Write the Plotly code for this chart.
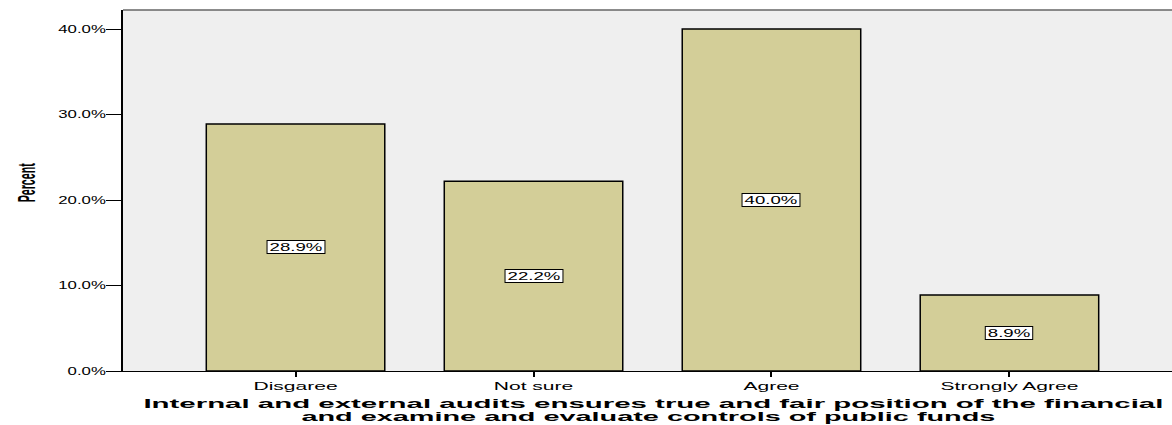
import plotly.graph_objects as go

categories = ["Disgaree", "Not sure", "Agree", "Strongly Agree"]
percents = [28.9, 22.2, 40.0, 8.9]
y_ticks = [0, 10, 20, 30, 40]
y_tick_labels = ["0.0%", "10.0%", "20.0%", "30.0%", "40.0%"]
x_title_lines = [
    "Internal and external audits ensures true and fair position of the financial",
    "and examine and evaluate controls of public funds",
]
y_title = "Percent"

W, H = 1172, 425
ML, MR, MT, MB = 123, 0, 10, 54
PW, PH = W - ML - MR, H - MT - MB


def px_x(px):
    return (px - ML) / PW


def px_y(py):
    return (H - MB - py) / PH


fig = go.Figure()
fig.add_trace(go.Bar(
    x=categories, y=percents, width=0.75,
    marker=dict(color="#d3ce98", line=dict(color="black", width=1.5)),
    hoverinfo="skip",
))

# value labels (indices 0..3)
for c, v in zip(categories, percents):
    fig.add_annotation(
        x=c, y=v / 2, xref="x", yref="y", text=f"{v:.1f}%", showarrow=False,
        bgcolor="white", bordercolor="black", borderwidth=1, borderpad=0,
        font=dict(family="Liberation Sans, Arial", size=10.5, color="black"),
    )

# y-axis title (index 4)
fig.add_annotation(
    x=px_x(26.5), y=px_y(182.5), xref="paper", yref="paper",
    xanchor="center", yanchor="middle", text=y_title, textangle=-90,
    showarrow=False,
    font=dict(family="Liberation Sans, Arial", size=23, color="black", weight="bold"),
)

# x-axis title lines (indices 5, 6)
for txt, cx, cy in zip(x_title_lines, [653, 648], [403.5, 416.5]):
    fig.add_annotation(
        x=px_x(cx), y=px_y(cy), xref="paper", yref="paper",
        xanchor="center", yanchor="middle", text=txt, showarrow=False,
        font=dict(family="Liberation Sans, Arial", size=13, color="black", weight="bold"),
    )

fig.add_shape(type="line", xref="paper", yref="paper", x0=0, x1=1, y0=1, y1=1,
              line=dict(color="#666666", width=1.5))

fig.update_layout(
    width=W, height=H,
    margin=dict(l=ML, r=MR, t=MT, b=MB),
    paper_bgcolor="white", plot_bgcolor="#efefef",
    showlegend=False,
    font=dict(family="Liberation Sans, Arial", color="black"),
    xaxis=dict(
        range=[-0.725, 3.683], showgrid=False, zeroline=False,
        showline=True, linecolor="black", linewidth=1,
        ticks="outside", ticklen=5, tickcolor="black", tickwidth=2,
        tickfont=dict(size=10.5, color="black"),
    ),
    yaxis=dict(
        range=[0, (H - MB - MT) / 85.5 * 10], showgrid=False, zeroline=False,
        showline=True, linecolor="black", linewidth=2,
        ticks="outside", ticklen=15, tickcolor="black", tickwidth=1,
        tickvals=y_ticks, ticktext=y_tick_labels, ticklabelstandoff=-2,
        tickfont=dict(size=10.5, color="black"),
    ),
)

post_script = """
var gd = document.getElementById('{plot_id}');
function fitText(el, target) {
  var w = el.getComputedTextLength();
  el.setAttribute('textLength', target.toFixed(2));
  el.setAttribute('lengthAdjust', 'spacingAndGlyphs');
  return target - w;
}
function stretch(el, f) { return fitText(el, el.getComputedTextLength() * f); }
gd.querySelectorAll('.ytick text').forEach(function (t) { stretch(t, 1.6); });
gd.querySelectorAll('.xtick text').forEach(function (t) { stretch(t, 2.0); });
function ann(i) { return gd.querySelector('.annotation[data-index="' + i + '"]'); }
for (var i = 0; i < 4; i++) {
  var g = ann(i); if (!g) continue;
  var t = g.querySelector('text.annotation-text');
  var r = g.querySelector('rect.bg');
  var d = stretch(t, 1.77);
  if (r) {
    var rx = parseFloat(r.getAttribute('x')), rw = parseFloat(r.getAttribute('width'));
    r.setAttribute('x', rx - d / 2 - 2);
    r.setAttribute('width', rw + d + 4);
  }
}
var gp = ann(4); if (gp) fitText(gp.querySelector('text.annotation-text'), 39);
var g5 = ann(5); if (g5) fitText(g5.querySelector('text.annotation-text'), 1020);
var g6 = ann(6); if (g6) fitText(g6.querySelector('text.annotation-text'), 694);
"""

fig.write_html("out.html", post_script=post_script)
